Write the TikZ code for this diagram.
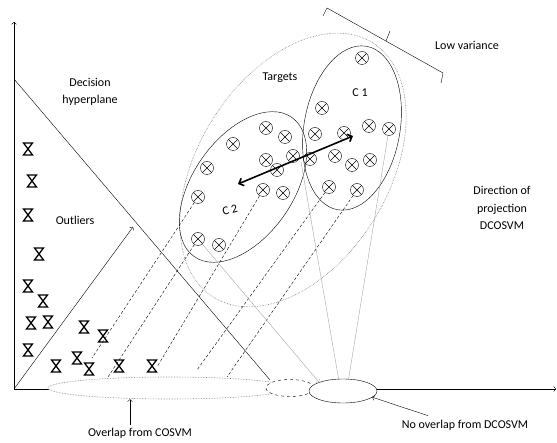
\documentclass[tikz,border=0pt]{standalone}
\usepackage{fontspec}
\setmainfont{Carlito}
\usetikzlibrary{arrows.meta,shapes.geometric}
\begin{document}
\begin{tikzpicture}[x=1pt,y=-1pt,
        lbl/.style={font=\fontsize{12}{17.5}\selectfont, align=center, inner sep=1pt},
        target/.style={circle, draw, inner sep=0pt, minimum size=13pt,
            path picture={\draw (path picture bounding box.north west) -- (path picture bounding box.south east)
                (path picture bounding box.south west) -- (path picture bounding box.north east);}},
        hglass/.style={line width=1.3pt, line join=miter},
        proj/.style={densely dashed, thin},
        ray/.style={gray!70, thin},
        hull/.style={gray, densely dotted, line width=0.6pt}]
    \useasboundingbox (0,0) rectangle (557,443);
    % axes
    \coordinate (O) at (14,389);
    \coordinate (Y) at (14,22);
    \coordinate (X) at (556,389);
    \draw[->] (O) -- (Y);
    \draw[->] (O) -- (X);
    % outer hull of the targets
    \draw[hull, rotate around={58:(293,170)}] (293,170) ellipse [x radius=150pt, y radius=95pt];
    % projections
    \node[ellipse, hull, draw, fill=white, inner sep=0pt, minimum width=242pt, minimum height=22pt] (ov) at (169,388) {};
    \coordinate (H1) at (14,79);
    \coordinate (H2) at (270,380);
    \draw (H1) -- (H2);
    \node[ellipse, draw, dashed, fill=white, inner sep=0pt, minimum width=48pt, minimum height=17pt] (dsh) at (290,388) {};
    \node[ellipse, draw, fill=white, inner sep=0pt, minimum width=68pt, minimum height=24pt] (nov) at (343,391) {};
    \coordinate (W) at (133,227);
    \draw[->] (O) -- (W);
    % clusters
    \draw[rotate around={55:(243,187)}] (243,187) ellipse [x radius=85pt, y radius=50pt];
    \draw[rotate around={80:(352,128)}] (352,128) ellipse [x radius=83pt, y radius=48pt];
    \foreach \x/\y [count=\i] in {362/58, 322/108, 369/126, 389/129, 315/134, 344/133,
                                  310/159, 335/156, 352/165, 370/160, 329/187, 357/190} {
        \node[target] (a\i) at (\x,\y) {};
    }
    \foreach \x/\y [count=\i] in {266/128, 285/137, 233/144, 266/160, 293/156, 277/170,
                                  207/168, 263/190, 283/193, 198/197, 198/239, 219/245} {
        \node[target] (b\i) at (\x,\y) {};
    }
    % outliers
    \foreach \x/\y in {28/149, 32/181, 28/215, 39/254, 28/286, 43/301, 31/323, 48/322,
                       28/350, 56/366, 77/358, 89/369, 84/327, 103/336, 119/366, 152/366} {
        \draw[hglass] (\x-4.5,\y-6) -- ++(9,0) -- ++(-9,12) -- ++(9,0) -- cycle;
    }
    % projection lines
    \coordinate (p1) at (92,358);
    \coordinate (p2) at (108,377);
    \coordinate (p3) at (157,367);
    \coordinate (p4) at (197,370);
    \coordinate (p5) at (227,377);
    \draw[proj] (b10) -- (p1);
    \draw[proj] (b11) -- (p2);
    \draw[proj] (b8) -- (p3);
    \draw[proj] (a11) -- (p4);
    \draw[proj] (a12) -- (p5);
    \coordinate (q1) at (301,162);
    \draw[ray, ->] (b11) -- (nov.160);
    \draw[ray] (q1) -- (nov.110);
    \draw[ray] (a4) -- (nov.65);
    % direction between clusters
    \coordinate (d1) at (238,184);
    \coordinate (d2) at (353,136);
    \draw[line width=1.6pt, {Straight Barb[length=4pt,width=8pt]}-{Straight Barb[length=4pt,width=8pt]}] (d1) -- (d2);
    % low variance bracket
    \coordinate (k1) at (327,8);
    \coordinate (k2) at (443,73);
    \coordinate (km) at (386,41);
    \draw (323,16) -- (k1) -- (k2) -- (441,83);
    \draw (km) -- (390,31);
    % labels
    \node[lbl] (dh) at (90,92) {Decision\\hyperplane};
    \node[lbl] (tg) at (280,78) {Targets};
    \node[lbl] (c1) at (360,93) {C 1};
    \node[lbl, rotate=15] (c2) at (230,210) {C 2};
    \node[lbl] (ol) at (75,220) {Outliers};
    \node[lbl] (lv) at (467,45) {Low variance};
    \node[lbl] (dp) at (502,208) {Direction of\\projection\\DCOSVM};
    \node[lbl] (ovl) at (140,433) {Overlap from COSVM};
    \node[lbl] (novl) at (465,425) {No overlap from DCOSVM};
    \draw[->] ([xshift=-10pt,yshift=2pt]ovl.north) -- ([xshift=-10pt]ovl.north |- ov.south);
    \draw[->] ([xshift=-37pt,yshift=3pt]novl.north) -- (nov.-12);
\end{tikzpicture}
\end{document}
